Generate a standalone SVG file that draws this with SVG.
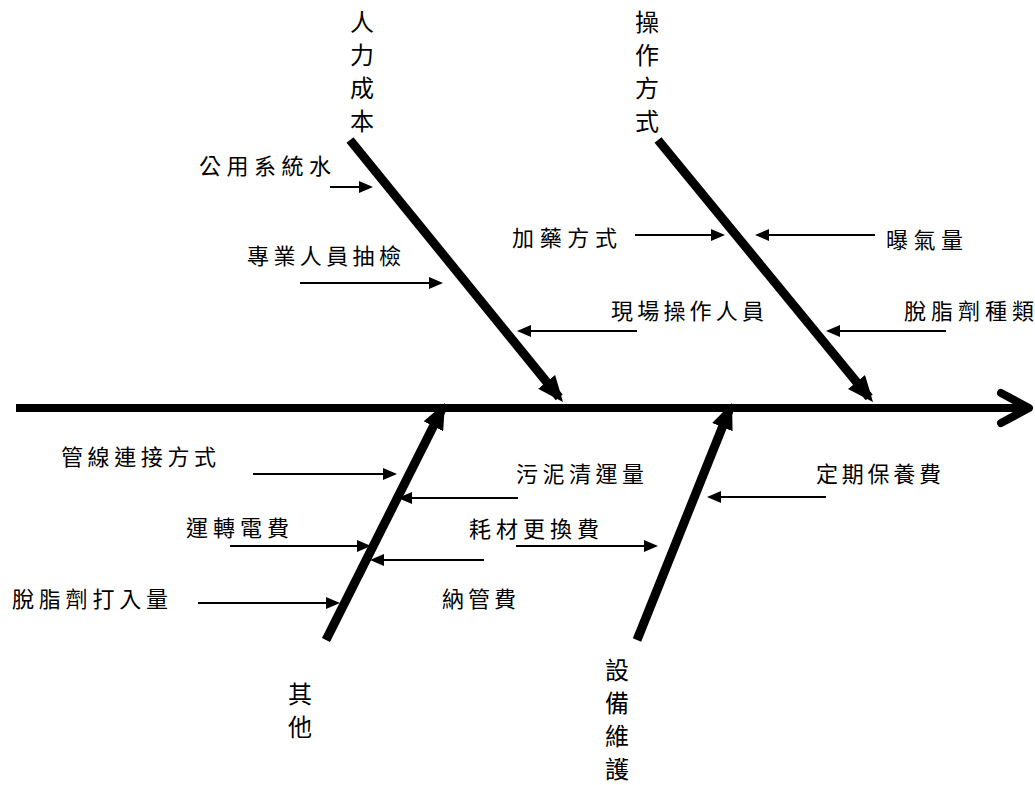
<svg xmlns="http://www.w3.org/2000/svg" width="1035" height="785" viewBox="0 0 1035 785">
<style>
text{font-family:"Noto Sans CJK TC","Noto Sans CJK SC",sans-serif;font-size:22px;fill:#000}
.v{font-size:24px;text-anchor:middle}
.s{stroke:#000;stroke-width:2;fill:none}
.b{stroke:#000;stroke-width:9;fill:none}
</style>
<defs>
<marker id="a" markerWidth="14" markerHeight="12" refX="12" refY="6" orient="auto" markerUnits="userSpaceOnUse"><path d="M0,0 L14,6 L0,12z" fill="#000"/></marker>
<marker id="bh" markerWidth="26" markerHeight="22" refX="20" refY="11" orient="auto" markerUnits="userSpaceOnUse"><path d="M0,0 L26,11 L0,22z" fill="#000"/></marker>
</defs>
<g id="spine">
<line x1="16" y1="408" x2="1024" y2="408" stroke="#000" stroke-width="8"/>
<polyline points="1001,393 1029,408 1001,423" fill="none" stroke="#000" stroke-width="8" stroke-linecap="round" stroke-linejoin="round"/>
</g>
<g id="connectors">
<line class="b" x1="350" y1="140" x2="559.2" y2="397.4" marker-end="url(#bh)"/>
<line class="b" x1="658" y1="140" x2="869.2" y2="397.4" marker-end="url(#bh)"/>
<line class="b" x1="326" y1="640" x2="442.3" y2="408.4" marker-end="url(#bh)"/>
<line class="b" x1="637" y1="640" x2="729.8" y2="408.6" marker-end="url(#bh)"/>
<line class="s" x1="330" y1="187" x2="371" y2="187" marker-end="url(#a)"/>
<line class="s" x1="300" y1="283" x2="441" y2="283" marker-end="url(#a)"/>
<line class="s" x1="637" y1="331" x2="519" y2="331" marker-end="url(#a)"/>
<line class="s" x1="635" y1="235" x2="723" y2="235" marker-end="url(#a)"/>
<line class="s" x1="875" y1="235" x2="757" y2="235" marker-end="url(#a)"/>
<line class="s" x1="946" y1="331" x2="828" y2="331" marker-end="url(#a)"/>
<line class="s" x1="253" y1="474" x2="395" y2="474" marker-end="url(#a)"/>
<line class="s" x1="518" y1="498" x2="400" y2="498" marker-end="url(#a)"/>
<line class="s" x1="230" y1="546" x2="369" y2="546" marker-end="url(#a)"/>
<line class="s" x1="516" y1="546" x2="656" y2="546" marker-end="url(#a)"/>
<line class="s" x1="484" y1="560" x2="372" y2="560" marker-end="url(#a)"/>
<line class="s" x1="198" y1="603" x2="338" y2="603" marker-end="url(#a)"/>
<line class="s" x1="826" y1="497" x2="709" y2="497" marker-end="url(#a)"/>
</g>
<g id="n-renli"><text class="v"><tspan x="362" y="31">人</tspan><tspan x="362" y="64">力</tspan><tspan x="362" y="97">成</tspan><tspan x="362" y="130">本</tspan></text></g>
<g id="n-caozuo"><text class="v"><tspan x="647" y="31">操</tspan><tspan x="647" y="64">作</tspan><tspan x="647" y="97">方</tspan><tspan x="647" y="130">式</tspan></text></g>
<g id="n-qita"><text class="v"><tspan x="300" y="703">其</tspan><tspan x="300" y="736">他</tspan></text></g>
<g id="n-shebei"><text class="v"><tspan x="617" y="679">設</tspan><tspan x="617" y="712">備</tspan><tspan x="617" y="745">維</tspan><tspan x="617" y="778">護</tspan></text></g>
<g id="c1"><text x="199" y="174" textLength="132" lengthAdjust="spacing">公用系統水</text></g>
<g id="c2"><text x="247" y="264" textLength="154" lengthAdjust="spacing">專業人員抽檢</text></g>
<g id="c3"><text x="611" y="319" textLength="153" lengthAdjust="spacing">現場操作人員</text></g>
<g id="c4"><text x="512" y="246" textLength="105" lengthAdjust="spacing">加藥方式</text></g>
<g id="c5"><text x="886" y="248" textLength="77" lengthAdjust="spacing">曝氣量</text></g>
<g id="c6"><text x="904" y="319" textLength="130" lengthAdjust="spacing">脫脂劑種類</text></g>
<g id="c7"><text x="61" y="465" textLength="155" lengthAdjust="spacing">管線連接方式</text></g>
<g id="c8"><text x="516" y="482" textLength="128" lengthAdjust="spacing">污泥清運量</text></g>
<g id="c9"><text x="186" y="536" textLength="103" lengthAdjust="spacing">運轉電費</text></g>
<g id="c10"><text x="469" y="537" textLength="130" lengthAdjust="spacing">耗材更換費</text></g>
<g id="c11"><text x="442" y="607" textLength="74" lengthAdjust="spacing">納管費</text></g>
<g id="c12"><text x="12" y="607" textLength="156" lengthAdjust="spacing">脫脂劑打入量</text></g>
<g id="c13"><text x="816" y="482" textLength="125" lengthAdjust="spacing">定期保養費</text></g>
</svg>
